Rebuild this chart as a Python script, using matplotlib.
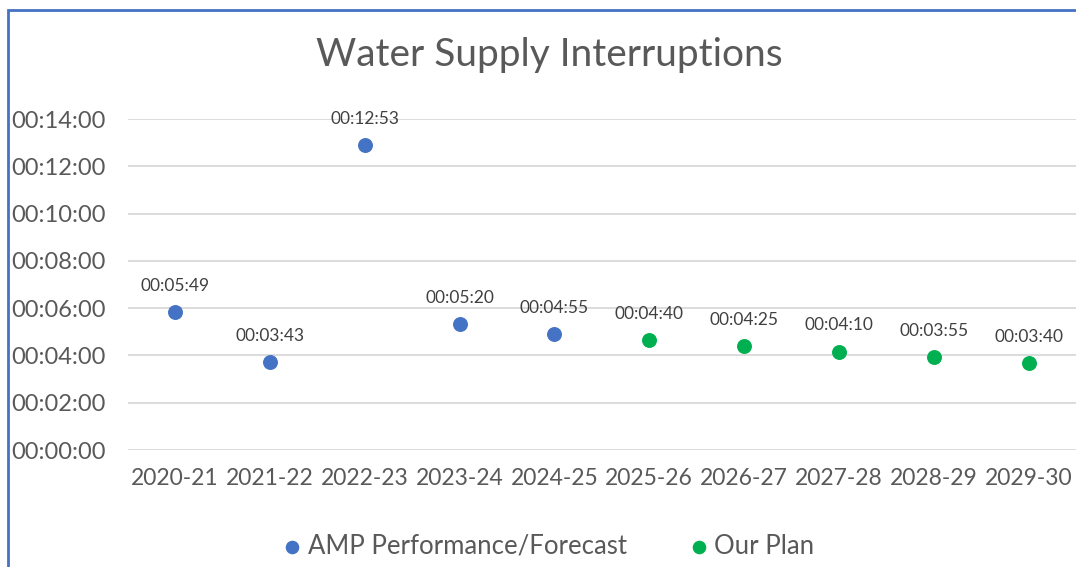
import matplotlib.pyplot as plt
from matplotlib.ticker import FuncFormatter, MultipleLocator
from matplotlib.patches import Rectangle

plt.rcParams['font.family'] = ['Lato', 'DejaVu Sans']

years = ['2020-21', '2021-22', '2022-23', '2023-24', '2024-25',
         '2025-26', '2026-27', '2027-28', '2028-29', '2029-30']
# durations in seconds
amp_years = years[:5]
amp_secs = [349, 223, 773, 320, 295]
plan_years = years[5:]
plan_secs = [280, 265, 250, 235, 220]

blue = '#4472C4'
green = '#00B050'
txt = '#595959'


def hms(s, pos=None):
    s = int(round(s))
    return '%02d:%02d:%02d' % (s // 3600, (s % 3600) // 60, s % 60)


fig = plt.figure(figsize=(10.76, 5.67), dpi=100)
ax = fig.add_axes([0.1186, 0.2063, 0.8814, 0.5838])

x_amp = [years.index(y) for y in amp_years]
x_plan = [years.index(y) for y in plan_years]
ax.scatter(x_amp, amp_secs, s=95, color=blue, zorder=3, label='AMP Performance/Forecast')
ax.scatter(x_plan, plan_secs, s=95, color=green, zorder=3, label='Our Plan')

for xs, vals in ((x_amp, amp_secs), (x_plan, plan_secs)):
    for x, v in zip(xs, vals):
        ax.annotate(hms(v), (x, v), xytext=(0, 13), textcoords='offset points',
                    ha='center', va='bottom', fontsize=12.5, color='#404040')

ax.set_xlim(-0.5, len(years) - 0.5)
ax.set_ylim(0, 840)
ax.yaxis.set_major_locator(MultipleLocator(120))
ax.yaxis.set_major_formatter(FuncFormatter(hms))
ax.set_xticks(range(len(years)))
ax.set_xticklabels(years)
ax.grid(axis='y', color='#D9D9D9', linewidth=1.3)
ax.set_axisbelow(True)
for sp in ax.spines.values():
    sp.set_visible(False)
ax.tick_params(axis='y', length=0, pad=16, labelsize=17, labelcolor=txt)
ax.tick_params(axis='x', length=0, pad=13, labelsize=16.5, labelcolor=txt)
for lab in ax.get_yticklabels():
    lab.set_clip_on(False)

fig.text(549 / 1076, 1 - 55 / 567, 'Water Supply Interruptions', ha='center', va='center',
         fontsize=28, color=txt)

fig.legend(loc='center', bbox_to_anchor=(548 / 1076, 1 - 546 / 567), ncol=2,
           frameon=False, fontsize=18.5, labelcolor=txt, handlelength=0.8,
           handletextpad=0.2, columnspacing=2.4, markerscale=0.9)

# chart border (cropped at right and bottom)
fig.patches.append(Rectangle((8 / 1076, -0.1), 1.2, 1 - 10 / 567 + 0.1,
                             transform=fig.transFigure, fill=False,
                             edgecolor=blue, linewidth=2))

fig.savefig('out.png', dpi=100)
